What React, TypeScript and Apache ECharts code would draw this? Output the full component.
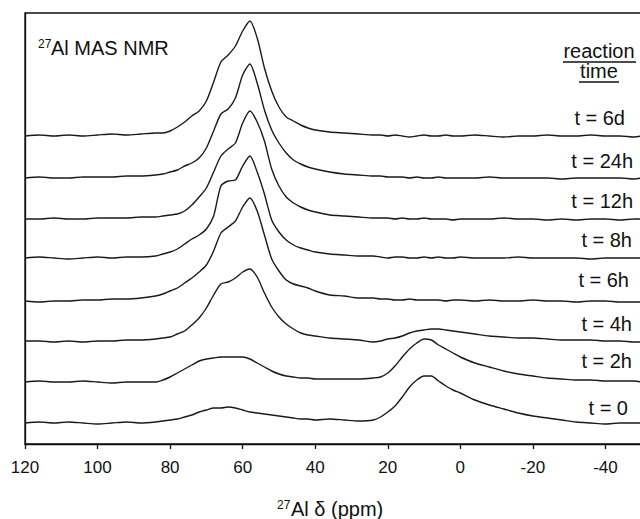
import React, { useEffect, useRef } from 'react';
import * as echarts from 'echarts';

// chemical shift grid (ppm), shared by every trace
const ppm = [
  120, 116, 112, 108, 104, 100, 96, 92, 88, 84,
  82, 80, 78, 76, 74, 72, 70, 68, 66, 64, 62, 60, 58, 56, 54, 52, 50, 48, 46, 44, 42, 40,
  36, 32, 28, 24,
  22, 20, 18, 16, 14, 12, 10, 8, 6, 4, 2, 0,
  -4, -8, -12, -16, -20, -24, -28, -32, -36, -40, -44, -48, -50,
];

// intensities (arbitrary units above each trace's baseline)
const t0 = [
  0, 1, 0, 1, 0, -1, 0, 1, 0, 1,
  2, 3, 4, 6, 8, 11, 13, 15, 15, 16, 15, 13, 11, 10, 9, 8, 7, 6, 5, 4, 4, 3,
  4, 3, 2, 3,
  6, 11, 17, 26, 36, 43, 47, 47, 42, 37, 33, 30,
  23, 18, 14, 10, 7, 5, 3, 1, 0, -1, 0, 0, 0,
];
const t2h = [
  0, 1, 0, 0, 1, 0, -1, 0, 0, 0,
  2, 5, 9, 13, 17, 21, 23, 24, 25, 25, 25, 25, 23, 19, 15, 11, 8, 6, 5, 4, 4, 3,
  3, 3, 3, 4,
  5, 9, 16, 25, 33, 39, 43, 42, 37, 33, 29, 25,
  19, 15, 11, 8, 6, 4, 3, 2, 2, 1, 1, 1, 0,
];
const t4h = [
  0, 0, -1, 0, -1, 0, 0, 1, 1, 2,
  3, 4, 7, 10, 16, 23, 33, 46, 57, 59, 63, 69, 72, 64, 48, 34, 24, 17, 12, 8, 6, 5,
  3, 2, 1, -1,
  0, 2, 3, 5, 8, 10, 11, 12, 12, 11, 10, 9,
  7, 5, 4, 3, 3, 2, 1, 1, 1, 0, 0, -1, -1,
];
const t6h = [
  0, -1, 0, 0, 1, 1, 2, 2, 3, 5,
  7, 10, 13, 18, 23, 29, 36, 50, 68, 74, 80, 94, 103, 90, 66, 42, 30, 21, 17, 15, 13, 10,
  6, 5, 3, 3,
  2, 2, 1, 1, 2, 1, 1, 1, 1, 0, 1, 1,
  0, 1, 0, 0, 1, 0, 0, -1, 0, 0, -1, -1, -1,
];
const t8h = [
  0, 1, 0, -1, 0, 1, 0, 1, 1, 2,
  4, 6, 9, 14, 19, 23, 29, 42, 72, 77, 78, 92, 102, 86, 64, 38, 26, 18, 13, 10, 8, 6,
  4, 3, 2, 2,
  1, 0, 1, 1, 0, 0, 1, 0, 1, 0, 0, 1,
  0, 0, 0, 1, 0, 0, 0, 0, -1, 0, 0, 0, 0,
];
const t12h = [
  0, 0, 1, 0, 0, 1, 1, 1, 2, 2,
  3, 4, 5, 8, 14, 22, 31, 47, 63, 70, 76, 96, 108, 97, 78, 50, 33, 22, 16, 12, 9, 7,
  4, 3, 2, 1,
  1, 1, 0, 1, 0, 0, 1, 0, 0, 0, -1, 0,
  0, 0, 1, 0, 0, -1, 0, -1, 0, 0, -1, 0, 0,
];
const t24h = [
  0, 1, 0, 0, 1, 1, 1, 2, 2, 3,
  4, 6, 8, 12, 15, 20, 30, 47, 64, 69, 80, 103, 114, 95, 68, 48, 35, 25, 18, 14, 11, 9,
  6, 4, 3, 2,
  2, 1, 1, 1, 0, 1, 0, 0, 1, 0, 0, 0,
  0, 1, 0, 0, 0, 0, -1, 0, 0, 0, 0, -1, 0,
];
const t6d = [
  0, 1, 0, 1, 0, 1, 2, 1, 2, 3,
  3, 5, 9, 14, 20, 25, 35, 54, 74, 81, 90, 105, 115, 98, 68, 45, 29, 19, 15, 11, 8, 6,
  4, 3, 2, 1,
  1, 0, 1, 0, -1, 0, 1, 0, 0, 1, 0, 0,
  1, 0, -1, 0, 0, 1, 0, 0, 1, 0, 0, -1, 0,
];

const traceNames = ['t = 0', 't = 2h', 't = 4h', 't = 6h', 't = 8h', 't = 12h', 't = 24h', 't = 6d'];
const traces = [t0, t2h, t4h, t6h, t8h, t12h, t24h, t6d];
// vertical stacking offset of each trace
const offsets = [21, 62, 103, 143, 186, 225, 266, 308];

const xTicks = { min: -60, max: 120, interval: 20 };

const App: React.FC = () => {
  const chartRef = useRef<HTMLDivElement | null>(null);

  useEffect(() => {
    document.body.style.margin = '0';
    if (!chartRef.current) return;
    const chart = echarts.init(chartRef.current, undefined, { renderer: 'svg' });
    const font = '"Liberation Sans", Arial, sans-serif';
    const ink = '#111';

    // right edge x and cap centre y of each time label
    const labelPos = [
      [628, 408], [632, 361], [632, 324], [629, 280],
      [632, 240], [633, 201], [633, 161], [625, 118],
    ];

    const txt = (text: string, x: number, y: number, size: number, align = 'left') => ({
      type: 'text',
      x,
      y,
      style: {
        text,
        fill: ink,
        font: `${size}px ${font}`,
        fontSize: size,
        fontFamily: font,
        textAlign: align,
        textVerticalAlign: 'middle',
        align,
        verticalAlign: 'middle',
      },
    });

    const option = {
      animation: false,
      backgroundColor: '#fff',
      // the plot runs on past the right edge of the picture (cropped like the original)
      grid: {
        left: 25,
        width: 653,
        top: 13,
        height: 431,
        outerBoundsMode: 'none',
        containLabel: false,
        show: true,
        borderColor: ink,
        borderWidth: 1.3,
      },
      xAxis: {
        type: 'value',
        inverse: true,
        min: xTicks.min,
        max: xTicks.max,
        interval: xTicks.interval,
        axisLine: { show: true, onZero: false, lineStyle: { color: ink, width: 1.3 } },
        axisTick: { show: true, inside: false, length: 5, lineStyle: { color: ink, width: 1.3 } },
        axisLabel: {
          fontSize: 17,
          color: ink,
          fontFamily: font,
          margin: 15,
          // the -60 end sits outside the cropped picture
          formatter: (v: number) => (v === xTicks.min ? '' : String(v)),
        },
        splitLine: { show: false },
      },
      yAxis: {
        type: 'value',
        min: 0,
        max: 431,
        axisLine: { show: true, onZero: false, lineStyle: { color: ink, width: 1.3 } },
        axisTick: { show: false },
        axisLabel: { show: false },
        splitLine: { show: false },
      },
      series: traces.map((vals, i) => ({
        name: traceNames[i],
        type: 'line',
        showSymbol: false,
        symbol: 'none',
        smooth: 0.25,
        lineStyle: { color: '#1a1a1a', width: 1.4 },
        data: ppm.map((x, j) => [x, offsets[i] + vals[j]]),
      })),
      graphic: [
        txt('27', 38, 44, 12),
        txt('Al MAS NMR', 51, 48, 20),
        txt('reaction', 599, 51, 20, 'center'),
        txt('time', 599, 71, 20, 'center'),
        { type: 'line', shape: { x1: 563, y1: 62, x2: 636, y2: 62 }, style: { stroke: ink, lineWidth: 1.5 } },
        { type: 'line', shape: { x1: 579, y1: 82, x2: 619, y2: 82 }, style: { stroke: ink, lineWidth: 1.5 } },
        ...traceNames.map((name, i) => txt(name, labelPos[i][0], labelPos[i][1], 20, 'right')),
        txt('27', 277, 505, 12),
        txt('Al \u03b4 (ppm)', 291, 509, 20),
      ],
    };

    chart.setOption(option as any);
    return () => {
      chart.dispose();
    };
  }, []);

  return <div ref={chartRef} style={{ width: '640px', height: '519px' }} />;
};

export default App;
